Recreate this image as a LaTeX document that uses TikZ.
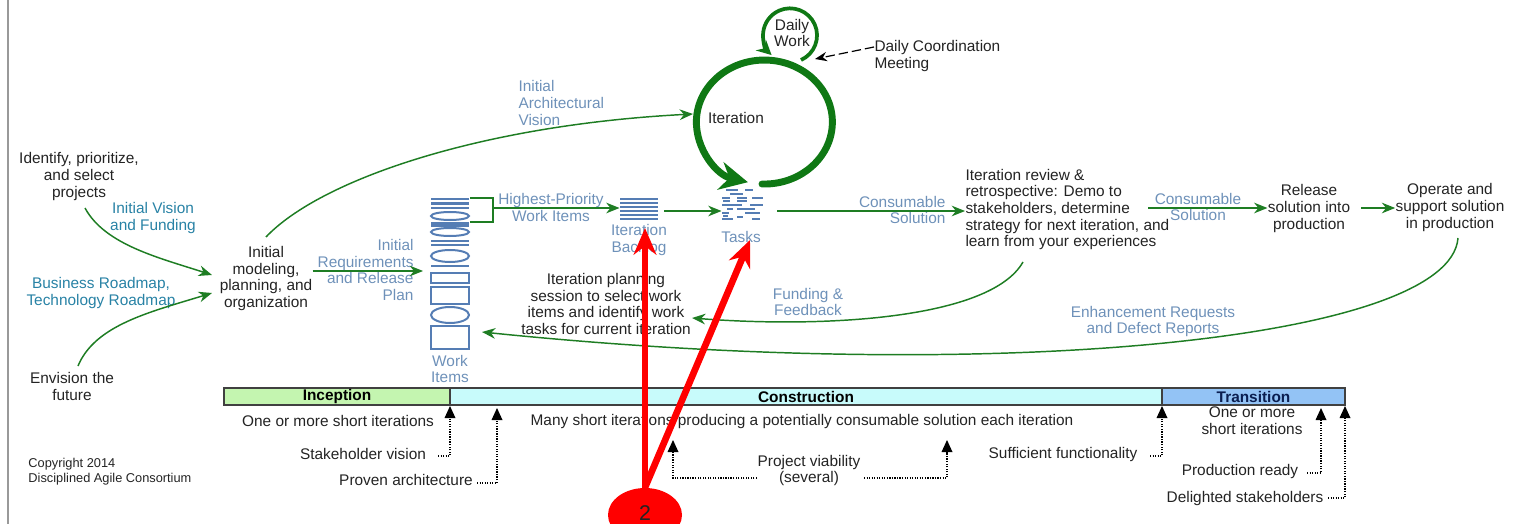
\documentclass[tikz,border=0pt]{standalone}
\usepackage{fontspec}
\setmainfont{Liberation Sans}
\usetikzlibrary{arrows.meta,shapes.geometric}
\definecolor{flowgreen}{RGB}{30,125,35}
\definecolor{loopgreen}{RGB}{15,120,20}
\definecolor{itemblue}{RGB}{85,125,180}
\definecolor{softblue}{RGB}{110,145,185}
\definecolor{tealblue}{RGB}{40,130,165}
\definecolor{inktext}{RGB}{35,35,35}
\tikzset{every picture/.style={line width=0.75pt}}
\tikzset{
  txt/.style={inner sep=0pt,align=center,text=inktext,font=\fontsize{11.55}{12.5}\selectfont},
  softtxt/.style={txt,text=softblue},
  tealtxt/.style={txt,text=tealblue},
  flow/.style={draw=flowgreen,line width=1.1pt,-{Stealth[length=10pt,width=8pt]}},
  gate/.style={draw=black,densely dotted,line width=0.9pt,-{Triangle[length=9pt,width=8pt]}},
  phase/.style={draw=black!75,line width=1pt,minimum height=12.75pt,inner sep=0pt,font=\fontsize{11.55}{12}\selectfont\bfseries},
  redarrow/.style={draw=red,line width=5pt,-{Stealth[length=20pt,width=17pt]}},
  icon/.style={inner sep=0pt,minimum width=28.5pt}
}
\begin{document}
\begin{tikzpicture}[x=0.75pt,y=0.75pt,yscale=-1,xscale=1]
\useasboundingbox (0,0) rectangle (1517,524);

%left page edge
\draw [draw=black!40,line width=2pt] (8,0) -- (8,524);

% Text nodes
\node (identify) at (79,176.5) [txt] {Identify, prioritize,\\and select\\projects};
\node (visionfunding) at (153,218) [tealtxt] {Initial Vision\\and Funding};
\node (roadmap) at (101,293) [tealtxt] {Business Roadmap,\\Technology Roadmap};
\node (envision) at (72,386.5) [txt] {Envision the\\future};
\node (modeling) at (266,278.5) [txt] {Initial\\modeling,\\planning, and\\organization};
\node (reqplan) at (414,270) [softtxt,align=right,anchor=east] {Initial\\Requirements\\and Release\\Plan};
\node (archvision) at (518,103) [softtxt,align=left,anchor=west] {Initial\\Architectural\\Vision};
\node (itemslabel) at (450,369) [softtxt] {Work\\Items};
\node (highprio) at (551,207.5) [softtxt] {Highest-Priority\\Work Items};
\node (backloglabel) at (639,240) [softtxt] {Iteration\\Backlog};
\node (taskslabel) at (741,237) [softtxt] {Tasks};
\node (planning) at (606,304) [txt] {Iteration planning\\session to select work\\items and identify work\\tasks for current iteration};
\node (funding) at (808,302) [softtxt] {Funding \&\\Feedback};
\node (solutionA) at (946,210) [softtxt,align=right,anchor=east] {Consumable\\Solution};
\node (review) at (965,209.5) [txt,align=left,anchor=west] {Iteration review \&\\retrospective: Demo to\\stakeholders, determine\\strategy for next iteration, and\\learn from your experiences};
\node (solutionB) at (1198,207) [softtxt] {Consumable\\Solution};
\node (release) at (1309,208.5) [txt] {Release\\solution into\\production};
\node (operate) at (1450,207.5) [txt] {Operate and\\support solution\\in production};
\node (enhance) at (1153,321.5) [softtxt] {Enhancement Requests\\and Defect Reports};
\node (iterlabel) at (736,118) [txt] {Iteration};
\node (dailywork) at (792,33) [txt] {Daily\\Work};
\node (dailymeet) at (874,56) [txt,align=left,anchor=west] {Daily Coordination\\Meeting};
\node (copyright) at (28,472) [txt,align=left,anchor=west,font=\fontsize{9.6}{11.5}\selectfont] {Copyright 2014\\Disciplined Agile Consortium};

%Icon: Work Items
\node (workitems) at (450,273.5) [icon,minimum height=114.75pt] {};
\foreach \y in {199,203.5,208,223,225.5,241,245,266}
  \draw [draw=itemblue,line width=1.8pt] (431,\y) -- (469,\y);
\foreach \y/\ry in {216/4,232/4,256/6,315/8}
  \draw [draw=itemblue,line width=1.5pt] (450,\y) ellipse (19 and \ry);
\foreach \y/\h in {273/10,287/17,326/23}
  \draw [draw=itemblue,line width=1.5pt] (431,\y) rectangle ++(38,\h);

%Icon: Iteration Backlog
\node (backlog) at (639,209) [icon,minimum height=21pt] {};
\foreach \y in {199,203,207,211,215,219}
  \draw [draw=itemblue,line width=1.5pt] (620,\y) -- (658,\y);

%Icon: Tasks
\node (tasks) at (741,205.5) [icon,minimum height=24pt] {};
\foreach \xa/\xb/\y in {726/738/190,745/753/190,730/743/194,722/730/198,737/747/198,752/763/198,723/730/201,737/747/201,722/742/205,750/763/205,727/733/209,737/755/209,722/729/213,745/760/213,723/728/216,737/743/217,722/733/219,752/760/219}
  \draw [draw=itemblue,line width=1.5pt] (\xa,\y) -- (\xb,\y);

%Iteration loops
\draw [draw=loopgreen,line width=5.2pt,line cap=round,-{Stealth[length=21pt,width=21pt]}] (762,184) arc[start angle=92,end angle=-256,x radius=68,y radius=62];
\draw [draw=loopgreen,line width=2.8pt,-{Stealth[length=11pt,width=11pt]}] (801,60) arc[start angle=66,end angle=-227,x radius=27,y radius=27];
\coordinate (loopedge) at (815,59);
\draw [draw=black,dash pattern=on 7pt off 3pt,line width=0.9pt,-{Stealth[length=9pt,width=7pt]}] (dailymeet.west |- 0,47) -- (loopedge);

%Flow arrows
\coordinate (modelin) at (212,275);
\coordinate (modelinb) at (212,293);
\coordinate (archend) at (693,114);
\coordinate (itemsin) at (423,271);
\coordinate (feedend) at (692,318);
\coordinate (defectend) at (482,332);
\coordinate (identifyout) at (85,208);
\coordinate (envisionout) at (78,366);
\coordinate (modelout) at (266,237);
\draw [flow] (identifyout) .. controls (105,245) and (160,258) .. (modelin);
\draw [flow] (envisionout) .. controls (95,325) and (150,312) .. (modelinb);
\draw [flow] (modelout) .. controls (320,180) and (480,125) .. (archend);
\draw [flow] (modeling.east |- itemsin) -- (itemsin);
\draw [draw=flowgreen,line width=1.1pt] (470,198) -- (493,198) -- (493,222) -- (470,222);
\coordinate (bracket) at (493,208);
\draw [flow] (bracket) -- (backlog.west |- bracket);
\draw [flow] (664,211) -- (tasks.west |- 0,211);
\draw [flow] (777,211) -- (review.west |- 0,211);
\draw [flow] (1148,208) -- (release.west |- 0,208);
\draw [flow] (1361,208) -- (operate.west |- 0,208);
\draw [flow] (1023,262) .. controls (990,320) and (820,328) .. (feedend);
\draw [flow] (1458,238) .. controls (1450,340) and (1000,385) .. (defectend);

%Phase bar
\node (inception) at (337,396.5) [phase,fill={rgb,255:red,196;green,245;blue,176},minimum width=169.5pt] {Inception};
\node (construction) at (806,396.5) [phase,fill={rgb,255:red,200;green,251;blue,251},minimum width=534pt] {Construction};
\node (transition) at (1253.5,396.5) [phase,fill={rgb,255:red,147;green,195;blue,245},minimum width=137.25pt,text={rgb,255:red,10;green,30;blue,80}] {Transition};

% Text under the bar
\node (shortA) at (338,421) [txt] {One or more short iterations};
\node (shortB) at (802,422) [txt] {Many short iterations producing a potentially consumable solution each iteration};
\node (shortC) at (1252,421) [txt] {One or more\\short iterations};
\node (stakevision) at (363,454) [txt] {Stakeholder vision};
\node (provenarch) at (406,480) [txt] {Proven architecture};
\node (viability) at (809,470.5) [txt] {Project viability\\(several)};
\node (sufficient) at (1063,455) [txt] {Sufficient functionality};
\node (prodready) at (1240,472) [txt] {Production ready};
\node (delighted) at (1245,499) [txt] {Delighted stakeholders};

%Milestones
\coordinate (gateA) at (450,406);
\coordinate (gateB) at (497,408);
\coordinate (gateC) at (673,440);
\coordinate (gateD) at (947,440);
\coordinate (gateE) at (1162,406);
\coordinate (gateF) at (1321,408);
\coordinate (gateG) at (1345,406);
\draw [gate] (438,456) -| (gateA);
\draw [gate] (477,483) -| (gateB);
\draw [gate] (757,478) -| (gateC);
\draw [gate] (864,478) -| (gateD);
\draw [gate] (1150,456) -| (gateE);
\draw [gate] (1307,473) -| (gateF);
\draw [gate] (1328,498) -| (gateG);

%Callout
\node (callout) at (645,515) [ellipse,fill=red,inner sep=0pt,minimum width=55.5pt,minimum height=40.5pt] {};
\node (calloutnum) at (645,513) [txt,font=\fontsize{16}{18}\selectfont] {2};
\coordinate (backlogtip) at (645,228);
\coordinate (taskstip) at (750,240);
\draw [redarrow] (callout.north) -- (backlogtip);
\draw [redarrow] (callout.north) -- (taskstip);

\end{tikzpicture}
\end{document}
